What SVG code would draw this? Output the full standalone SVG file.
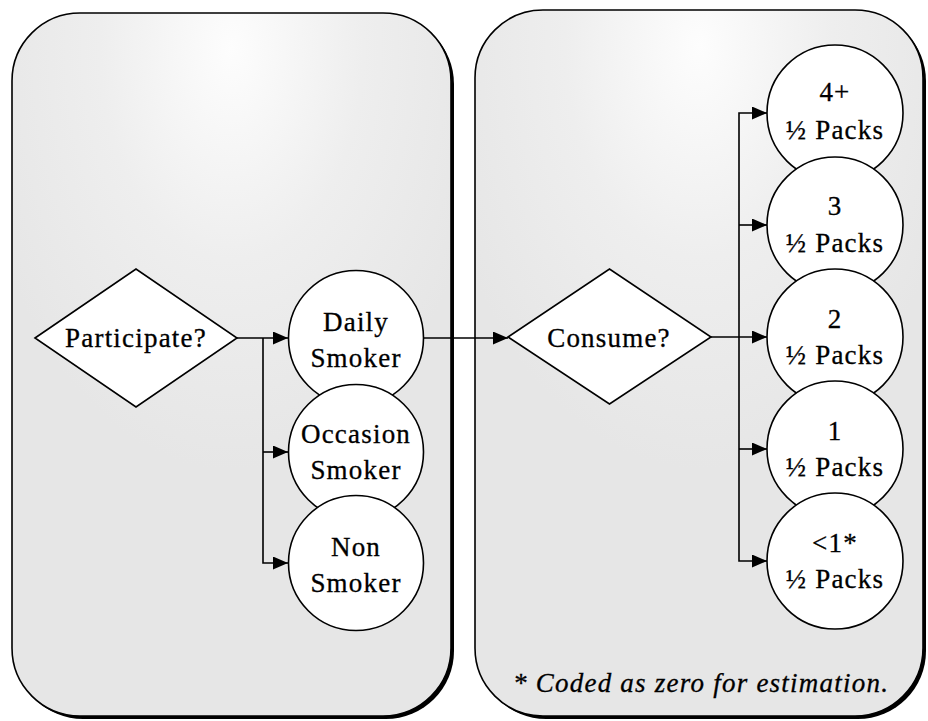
<svg xmlns="http://www.w3.org/2000/svg" width="928" height="721" viewBox="0 0 928 721">
<style>
.panel{fill:url(#bg);stroke:#000;stroke-width:1.6}
.shadow{fill:#000}
.shape{fill:#fff;stroke:#000;stroke-width:1.6}
.lbl{font-family:"Liberation Serif","Times New Roman",serif;font-size:27px;fill:#000;stroke:#000;stroke-width:0.3;text-anchor:middle;letter-spacing:1.2px}
.note{font-family:"Liberation Serif","Times New Roman",serif;font-size:27px;font-style:italic;fill:#000;stroke:#000;stroke-width:0.3}
.conn{fill:none;stroke:#000;stroke-width:1.6}
</style>
<defs>
<radialGradient id="bg" cx="0.5" cy="0.05" r="0.6">
<stop offset="0" stop-color="#fdfdfd"/>
<stop offset="0.5" stop-color="#eeeeee"/>
<stop offset="1" stop-color="#e6e6e6"/>
</radialGradient>
<marker id="arr" markerWidth="15" markerHeight="13" refX="15" refY="6.5" orient="auto" markerUnits="userSpaceOnUse">
<path d="M0,0 L15,6.5 L0,13 Z" fill="#000"/>
</marker>
</defs>
<rect width="928" height="721" fill="#fff"/>
<g id="panel-left">
<rect class="shadow" x="15" y="16" width="439" height="703" rx="68"/>
<rect class="panel" x="12" y="13" width="439" height="703" rx="68"/>
</g>
<g id="panel-right">
<rect class="shadow" x="478" y="13" width="448" height="706" rx="68"/>
<rect class="panel" x="475" y="10" width="448" height="706" rx="68"/>
</g>
<g id="connectors">
<path class="conn" d="M237,338 H288" marker-end="url(#arr)"/>
<path class="conn" d="M263,338 V563 H288" marker-end="url(#arr)"/>
<path class="conn" d="M263,452 H288" marker-end="url(#arr)"/>
<path class="conn" d="M423,338 H508" marker-end="url(#arr)"/>
<path class="conn" d="M711,337 H767" marker-end="url(#arr)"/>
<path class="conn" d="M739,337 V113 H767" marker-end="url(#arr)"/>
<path class="conn" d="M739,225 H767" marker-end="url(#arr)"/>
<path class="conn" d="M739,337 V561 H767" marker-end="url(#arr)"/>
<path class="conn" d="M739,449 H767" marker-end="url(#arr)"/>
</g>
<g id="participate">
<polygon class="shape" points="35,338 136,269 237,338 136,407"/>
<text class="lbl" x="136" y="347">Participate?</text>
</g>
<g id="daily">
<circle class="shape" cx="356" cy="338" r="67.5"/>
<text class="lbl" x="356" y="331">Daily</text>
<text class="lbl" x="356" y="367">Smoker</text>
</g>
<g id="occasion">
<circle class="shape" cx="356" cy="452" r="67.5"/>
<text class="lbl" x="356" y="443">Occasion</text>
<text class="lbl" x="356" y="479">Smoker</text>
</g>
<g id="non">
<circle class="shape" cx="356" cy="563" r="67.5"/>
<text class="lbl" x="356" y="556">Non</text>
<text class="lbl" x="356" y="592">Smoker</text>
</g>
<g id="consume">
<polygon class="shape" points="508,337 609.5,269 711,337 609.5,404"/>
<text class="lbl" x="609" y="347">Consume?</text>
</g>
<g id="c4">
<circle class="shape" cx="835" cy="113" r="68"/>
<text class="lbl" x="835" y="101">4+</text>
<text class="lbl" x="835" y="139">½ Packs</text>
</g>
<g id="c3">
<circle class="shape" cx="835" cy="225" r="68"/>
<text class="lbl" x="835" y="215">3</text>
<text class="lbl" x="835" y="252">½ Packs</text>
</g>
<g id="c2">
<circle class="shape" cx="835" cy="337" r="68"/>
<text class="lbl" x="835" y="328">2</text>
<text class="lbl" x="835" y="364">½ Packs</text>
</g>
<g id="c1">
<circle class="shape" cx="835" cy="449" r="68"/>
<text class="lbl" x="835" y="440">1</text>
<text class="lbl" x="835" y="476">½ Packs</text>
</g>
<g id="c0">
<circle class="shape" cx="835" cy="561" r="68"/>
<text class="lbl" x="835" y="552">&lt;1*</text>
<text class="lbl" x="835" y="588">½ Packs</text>
</g>
<g id="footnote">
<text class="note" x="513" y="692" textLength="375" lengthAdjust="spacing">* Coded as zero for estimation.</text>
</g>
</svg>
